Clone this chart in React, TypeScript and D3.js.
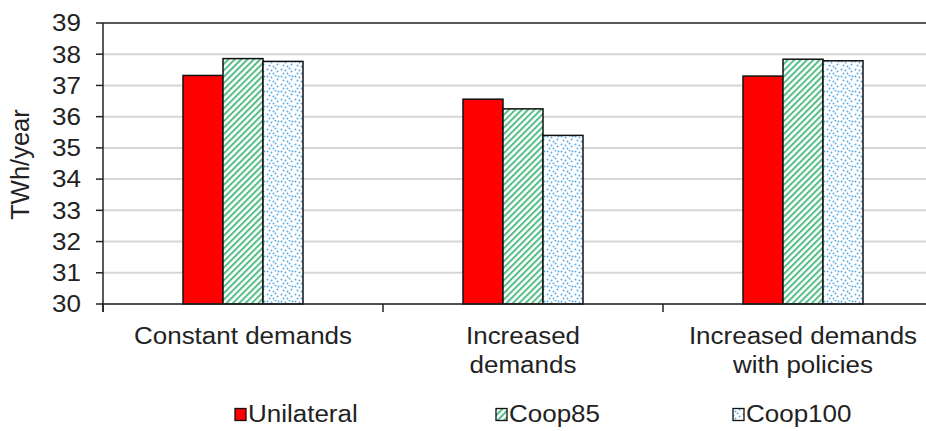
import React from "react";
import * as d3 from "d3";

const categories = [["Constant demands"], ["Increased", "demands"], ["Increased demands", "with policies"]];
const seriesNames = ["Unilateral", "Coop85", "Coop100"];
const unilateral = [37.32, 36.56, 37.3];
const coop85 = [37.86, 36.25, 37.84];
const coop100 = [37.77, 35.4, 37.79];
const yTicks = [30, 31, 32, 33, 34, 35, 36, 37, 38, 39];

const W = 926, H = 431;
const left = 103, right = 943, top = 23, bottom = 304;
const font = "Liberation Sans, Arial, sans-serif";
const FS = 23;
const SX = 1.13;

function HText({ x, y, anchor, children }: { x: number; y: number; anchor: string; children: React.ReactNode }) {
  return (
    <text transform={`translate(${x},${y}) scale(${SX},1)`} textAnchor={anchor} fontFamily={font} fontSize={FS} fill="#222">
      {children}
    </text>
  );
}

export default function App() {
  const x = d3.scaleBand<number>().domain([0, 1, 2]).range([left, right]);
  const y = d3.scaleLinear().domain([30, 39]).range([bottom, top]);
  const barW = 40;
  const series = [unilateral, coop85, coop100];
  const fills = ["#ff0000", "url(#stripes)", "url(#dots)"];
  const dots: [number, number][] = [
    [1, 1], [5, 2], [9, 0], [3, 5], [7, 6], [11, 4], [1, 9], [5, 10], [9, 8], [3, 13], [7, 13], [11, 11], [12, 1],
  ];
  return (
    <svg width={W} height={H} style={{ position: "absolute", left: 0, top: 0, background: "#fff" }}>
      <defs>
        <pattern id="stripes" width="4.5" height="4.5" patternUnits="userSpaceOnUse" patternTransform="rotate(45)">
          <rect width="4.5" height="4.5" fill="#ffffff" />
          <rect width="2" height="4.5" fill="#55bd86" />
        </pattern>
        <pattern id="dots" width="14" height="15" patternUnits="userSpaceOnUse">
          <rect width="14" height="15" fill="#ffffff" />
          {dots.map(([a, b], i) => (
            <circle key={i} cx={a + 0.5} cy={b + 0.5} r={1} fill="#3d9fe0" opacity={0.85} />
          ))}
        </pattern>
      </defs>
      {yTicks.map((t) => (
        <line key={t} x1={left} x2={W} y1={y(t)} y2={y(t)} stroke={t === 39 ? "#222" : "#d6d6d6"} strokeWidth={t === 39 ? 1.5 : 2} />
      ))}
      {yTicks.map((t) => (
        <g key={"l" + t}>
          <line x1={left - 7} x2={left} y1={y(t)} y2={y(t)} stroke="#222" strokeWidth={1.5} />
          <HText x={81} y={y(t) + 8.3} anchor="end">{t}</HText>
        </g>
      ))}
      {[0, 1, 2].map((ci) =>
        series.map((s, si) => {
          const cx = (x(ci) as number) + x.bandwidth() / 2;
          const bx = cx - 1.5 * barW + si * barW;
          return (
            <rect key={ci + "-" + si} x={bx} y={y(s[ci])} width={barW} height={bottom - y(s[ci])} fill={fills[si]} stroke="#111" strokeWidth={1.5} />
          );
        })
      )}
      <line x1={left} x2={left} y1={top} y2={bottom + 8} stroke="#222" strokeWidth={1.5} />
      <line x1={left} x2={W} y1={bottom} y2={bottom} stroke="#222" strokeWidth={1.5} />
      {[0, 1, 2, 3].map((i) => {
        const tx = i < 3 ? (x(i) as number) : right;
        return <line key={"t" + i} x1={tx} x2={tx} y1={bottom} y2={bottom + 8} stroke="#222" strokeWidth={1.5} />;
      })}
      {categories.map((lines, ci) => {
        const cx = (x(ci) as number) + x.bandwidth() / 2;
        return lines.map((l, li) => (
          <HText key={"c" + ci + li} x={cx} y={344 + li * 29} anchor="middle">{l}</HText>
        ));
      })}
      <text transform={`translate(29,${(top + bottom) / 2 + 1}) rotate(-90)`} textAnchor="middle" fontFamily={font} fontSize={25.5} fill="#222">TWh/year</text>
      {seriesNames.map((n, i) => {
        const lx = [235, 496, 733][i];
        return (
          <g key={n}>
            <rect x={lx} y={408.5} width={11} height={12} fill={fills[i]} stroke="#111" strokeWidth={1.3} />
            <HText x={lx + 13} y={422} anchor="start">{n}</HText>
          </g>
        );
      })}
    </svg>
  );
}
